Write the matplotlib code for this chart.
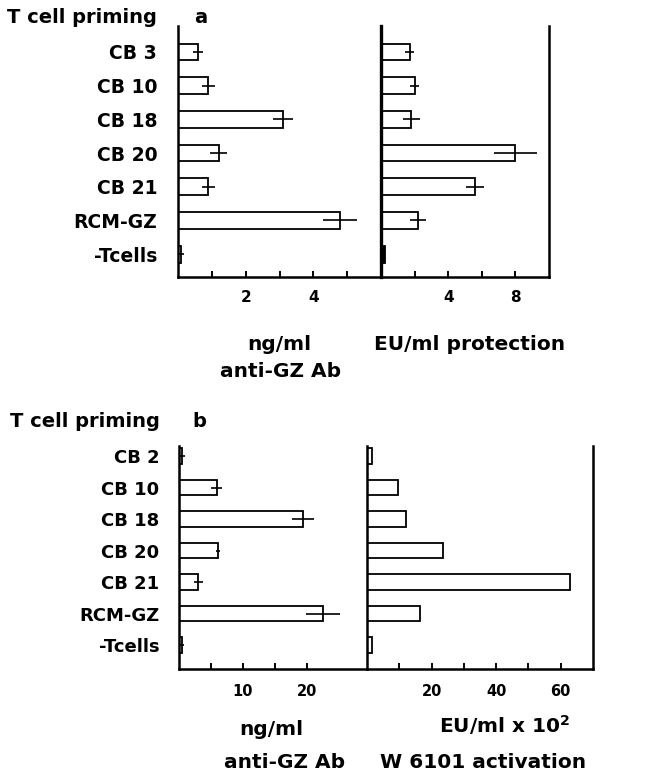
import numpy as np
import matplotlib
matplotlib.use("Agg")
import matplotlib.pyplot as plt

plt.rcParams['font.family'] = ['DejaVu Sans']
plt.rcParams['font.weight'] = 'bold'

# panel a
cats_a = ["CB 3", "CB 10", "CB 18", "CB 20", "CB 21", "RCM-GZ", "-Tcells"]
ab_a = [0.6, 0.9, 3.1, 1.2, 0.9, 4.8, 0.1]
ab_a_err = [0.15, 0.2, 0.3, 0.25, 0.18, 0.5, 0.08]
prot_a = [1.7, 2.0, 1.8, 8.0, 5.6, 2.2, 0.25]
prot_a_err = [0.25, 0.25, 0.5, 1.3, 0.55, 0.45, 0.0]

# panel b
cats_b = ["CB 2", "CB 10", "CB 18", "CB 20", "CB 21", "RCM-GZ", "-Tcells"]
ab_b = [0.5, 5.9, 19.4, 6.1, 3.0, 22.5, 0.4]
ab_b_err = [0.4, 0.9, 1.7, 0.3, 0.7, 2.6, 0.4]
act_b = [1.6, 9.7, 12.2, 23.4, 62.8, 16.3, 1.6]

W, H = 654, 775
fig = plt.figure(figsize=(W / 100, H / 100), dpi=100)


def box(x0, x1, y0, y1):
    # pixel box (from top-left) -> figure fraction rect
    return [x0 / W, 1 - y1 / H, (x1 - x0) / W, (y1 - y0) / H]


def ftext(x, y, s, size, ha='left', va='baseline'):
    fig.text(x / W, 1 - y / H, s, fontsize=size, fontweight='bold', ha=ha, va=va)


def style(ax, side, xlim, ylim, ticks, labels, lsize):
    ax.set_xlim(*xlim)
    ax.set_ylim(*ylim)
    ax.spines['top'].set_visible(False)
    for s in ['left', 'right', 'bottom']:
        ax.spines[s].set_linewidth(1.8)
    if side == 'left':
        ax.spines['right'].set_visible(False)
    ax.set_xticks(ticks)
    ax.set_xticklabels(labels, fontsize=lsize, fontweight='bold')
    ax.tick_params(axis='x', direction='in', length=4, width=1.4, pad=9)


bar_kw = dict(height=0.5, edgecolor='black', linewidth=1.3)
err_kw = dict(fmt='none', ecolor='black', elinewidth=1.2, capsize=0)

# ---- panel a ----
y = np.arange(len(cats_a))
ylim_a = (6.68, -0.77)
ax1 = fig.add_axes(box(178, 381, 26, 277))
ax1.barh(y, ab_a, color='white', **bar_kw)
ax1.errorbar(ab_a, y, xerr=ab_a_err, **err_kw)
style(ax1, 'left', (0, 6), ylim_a, [1, 2, 3, 4, 5], ['', '2', '', '4', ''], 11)
ax1.set_yticks(y)
ax1.set_yticklabels(cats_a, fontsize=13.5, fontweight='bold')
ax1.tick_params(axis='y', length=0, pad=15)

ax2 = fig.add_axes(box(381, 549, 26, 277))
ax2.barh(y, prot_a, color=['white'] * 6 + ['black'], **bar_kw)
ax2.errorbar(prot_a, y, xerr=prot_a_err, **err_kw)
style(ax2, 'right', (0, 10), ylim_a, [2, 4, 6, 8], ['', '4', '', '8'], 11)
ax2.set_yticks([])
ax2.spines['left'].set_linewidth(2.4)

ftext(7, 23, "T cell priming", 14)
ftext(194, 23, "a", 14)
ftext(279, 350, "ng/ml", 14.5, ha='center')
ftext(281, 377, "anti-GZ Ab", 14.5, ha='center')
ftext(470, 350, "EU/ml protection", 14.5, ha='center')

# ---- panel b ----
yb = np.arange(len(cats_b))
ylim_b = (6.76, -0.32)
ax3 = fig.add_axes(box(179, 367, 446, 669))
ax3.barh(yb, ab_b, color='white', **bar_kw)
ax3.errorbar(ab_b, yb, xerr=ab_b_err, **err_kw)
style(ax3, 'left', (0, 29.4), ylim_b, [5, 10, 15, 20], ['', '10', '', '20'], 10.5)
ax3.tick_params(axis='x', pad=11)
ax3.set_yticks(yb)
ax3.set_yticklabels(cats_b, fontsize=13, fontweight='bold')
ax3.tick_params(axis='y', length=0, pad=14)

ax4 = fig.add_axes(box(367, 593, 446, 669))
ax4.barh(yb, act_b, color='white', **bar_kw)
style(ax4, 'right', (0, 70), ylim_b, [10, 20, 30, 40, 50, 60],
      ['', '20', '', '40', '', '60'], 10.5)
ax4.tick_params(axis='x', pad=11)
ax4.set_yticks([])

ftext(10, 427, "T cell priming", 14)
ftext(192, 427, "b", 14)
ftext(271, 735, "ng/ml", 14.5, ha='center')
ftext(285, 768, "anti-GZ Ab", 14.5, ha='center')
ftext(505, 733, r"EU/ml x 10$^{\mathbf{2}}$", 14.5, ha='center')
ftext(483, 768, "W 6101 activation", 14.5, ha='center')

fig.savefig("out.png", dpi=100)
